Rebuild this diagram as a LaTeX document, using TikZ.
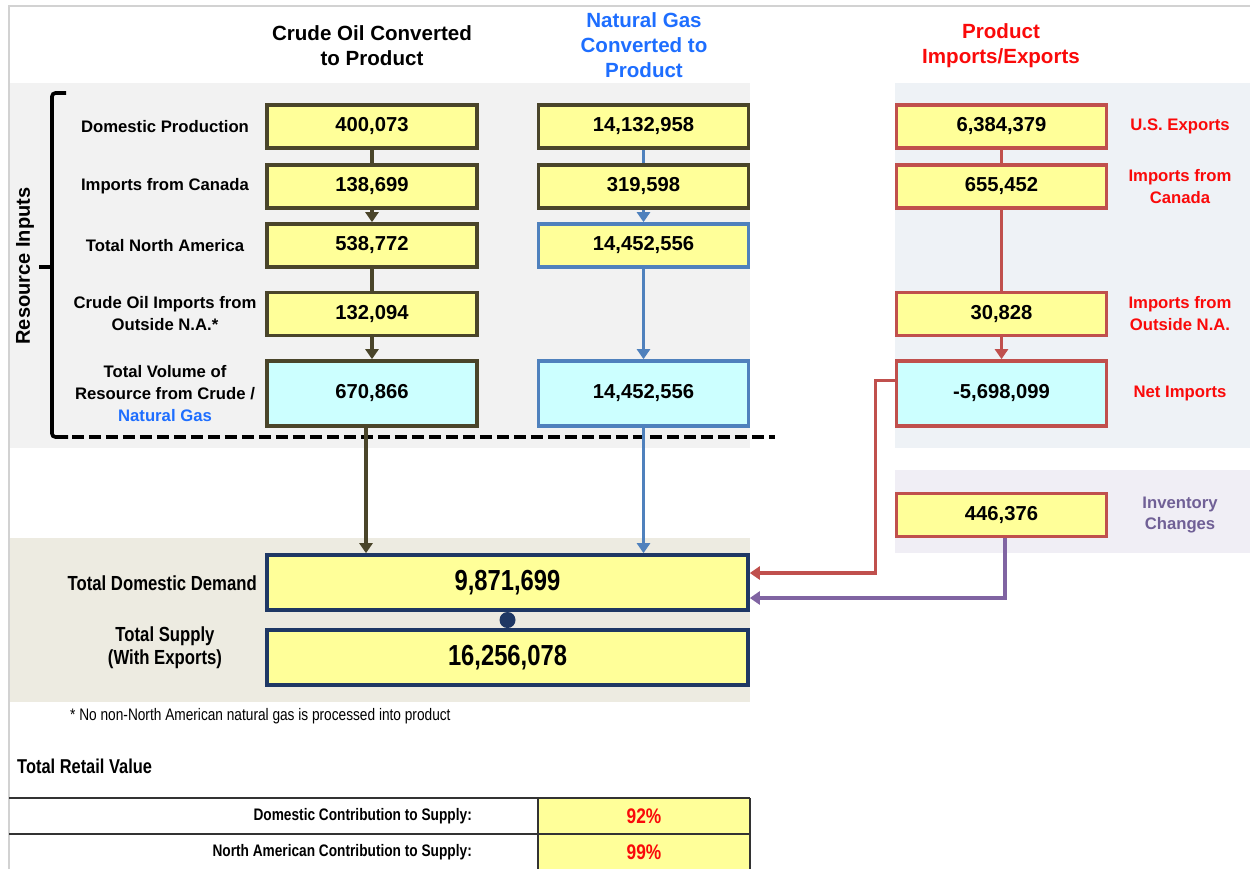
\documentclass[tikz,border=0pt]{standalone}
\usepackage{fontspec}
\setmainfont{Liberation Sans}
\newfontfamily\narrowfont[FakeStretch=0.82]{Liberation Sans}
\usepackage{tikz}
\usetikzlibrary{arrows.meta}
\definecolor{crude}{RGB}{74,69,42}
\definecolor{gas}{RGB}{79,129,189}
\definecolor{prod}{RGB}{192,80,77}
\definecolor{invpurple}{RGB}{128,100,162}
\definecolor{navy}{RGB}{31,56,100}
\definecolor{boxyellow}{RGB}{255,255,153}
\definecolor{boxcyan}{RGB}{204,255,255}
\definecolor{headblue}{RGB}{30,110,255}
\definecolor{headred}{RGB}{250,10,10}
\definecolor{invtext}{RGB}{112,96,150}
\definecolor{panelgray}{RGB}{242,242,242}
\definecolor{panelblue}{RGB}{238,242,246}
\definecolor{panellilac}{RGB}{240,238,245}
\definecolor{panelbeige}{RGB}{237,235,225}
\definecolor{framegray}{RGB}{210,210,210}
\tikzset{
  % node options
  numbox/.style={rectangle,draw,line width=2.1pt,fill=boxyellow,inner sep=0pt,
    minimum width=4.2cm,minimum height=0.86cm,font=\bfseries\fontsize{11.5}{13}\selectfont},
  crudebox/.style={numbox,draw=crude},
  gasbox/.style={numbox,draw=gas},
  prodbox/.style={numbox,draw=prod},
  totfill/.style={fill=boxcyan,minimum height=1.3cm},
  bigbox/.style={numbox,draw=navy,minimum width=9.62cm,minimum height=1.1cm,
    font=\narrowfont\bfseries\fontsize{16.5}{18}\selectfont},
  header/.style={align=center,font=\bfseries\fontsize{11.7}{14.2}\selectfont},
  rowlabel/.style={align=center,font=\bfseries\fontsize{9.5}{12.5}\selectfont},
  sidelabel/.style={rowlabel,text=headred},
  narrowlabel/.style={align=center,font=\narrowfont\bfseries\fontsize{11.6}{13}\selectfont},
  dotmark/.style={circle,fill=navy,inner sep=0pt,minimum size=0.32cm},
  % path options
  link/.style={line width=1.9pt},
  flow/.style={link,-{Triangle[length=0.2cm,width=0.26cm]}},
}

\begin{document}
\begin{tikzpicture}[x=0.02cm,y=-0.02cm]
  \useasboundingbox (0,0) rectangle (1250,869);
  % panels
  \fill[panelgray] (9,83) rectangle (750,448);
  \fill[panelblue] (895,83) rectangle (1250,448);
  \fill[panellilac] (895,470) rectangle (1250,553);
  \fill[panelbeige] (9,538) rectangle (750,702);
  \fill[boxyellow] (538,798) rectangle (750,869);
  \draw[framegray,line width=0.8pt] (9,869) -- (9,6) -- (1250,6);

  % headers
  \node[header] (crudehead) at (372,45.5) {Crude Oil Converted\\to Product};
  \node[header,text=headblue] (gashead) at (644,45) {Natural Gas\\Converted to\\Product};
  \node[header,text=headred] (prodhead) at (1001,45.5) {Product\\Imports/Exports};

  % crude oil column
  \node[crudebox] (dom) at (372,126.5) {400,073};
  \node[crudebox] (can) at (372,186.5) {138,699};
  \node[crudebox] (na) at (372,245.5) {538,772};
  \node[crudebox] (outside) at (372,314) {132,094};
  \node[crudebox,totfill] (crudetot) at (372,393.5) {670,866};

  % natural gas column
  \node[crudebox] (gdom) at (643.5,126.5) {14,132,958};
  \node[crudebox] (gcan) at (643.5,186.5) {319,598};
  \node[gasbox] (gna) at (643.5,245.5) {14,452,556};
  \node[gasbox,totfill] (gtot) at (643.5,393.5) {14,452,556};

  % product column
  \node[prodbox] (exports) at (1001.5,126.5) {6,384,379};
  \node[prodbox] (pcan) at (1001.5,186.5) {655,452};
  \node[prodbox] (poutside) at (1001.5,314) {30,828};
  \node[prodbox,totfill] (netimp) at (1001.5,393.5) {-5,698,099};
  \node[prodbox] (invchg) at (1001.5,515) {446,376};

  % row labels
  \node[rowlabel] (domlbl) at (165,126.5) {Domestic Production};
  \node[rowlabel] (canlbl) at (165,186.5) {Imports from Canada};
  \node[rowlabel] (nalbl) at (165,245.5) {Total North America};
  \node[rowlabel] (outlbl) at (165,314) {Crude Oil Imports from\\Outside N.A.*};
  \node[rowlabel] (totlbl) at (165,393.5) {Total Volume of\\Resource from Crude /\\\textcolor{headblue}{Natural Gas}};
  \node[sidelabel] (explbl) at (1180,126.5) {U.S. Exports};
  \node[sidelabel] (pcanlbl) at (1180,186.5) {Imports from\\Canada};
  \node[sidelabel] (poutlbl) at (1180,314) {Imports from\\Outside N.A.};
  \node[sidelabel] (netlbl) at (1180,393.5) {Net Imports};
  \node[rowlabel,text=invtext] (invlbl) at (1180,515) {Inventory\\Changes};
  \node[rotate=90,font=\bfseries\fontsize{11.4}{13}\selectfont] (reslbl) at (25,266) {Resource Inputs};

  % brace and divider
  \draw[link,line width=2.1pt,rounded corners=2pt] (66,93) -- (52,93) -- (52,437) -- (68,437);
  \draw[link,line width=2.1pt] (52,267) -- (39,267);
  \draw[link,line width=2.4pt,dash pattern=on 0.24cm off 0.1cm] (72,437) -- (775,437);

  % totals
  \node[bigbox] (demand) at (507.5,582.5) {9,871,699};
  \node[bigbox] (supply) at (507.5,657.5) {16,256,078};
  \node[dotmark] (joint) at (507.5,620) {};
  \node[narrowlabel,anchor=east] (demlbl) at (263,583) {Total Domestic Demand};
  \node[narrowlabel] (suplbl) at (165,648) {Total Supply\\(With Exports)};

  % connectors
  \draw[link,crude] (dom) -- (can);
  \draw[flow,crude] (can) -- (na);
  \draw[link,crude] (na) -- (outside);
  \draw[flow,crude] (outside) -- (crudetot);
  \draw[flow,crude] ([xshift=-0.12cm]crudetot.south) -- ([xshift=-0.12cm]crudetot.south |- demand.north);
  \draw[link,gas] (gdom) -- (gcan);
  \draw[flow,gas] (gcan) -- (gna);
  \draw[flow,gas] (gna) -- (gtot);
  \draw[flow,gas] (gtot.south) -- (gtot.south |- demand.north);
  \draw[link,prod] (exports) -- (pcan);
  \draw[link,prod] (pcan) -- (poutside);
  \draw[flow,prod] (poutside) -- (netimp);
  \draw[flow,prod] ([yshift=0.26cm]netimp.west) -- ++(-19,0) |- ([yshift=0.19cm]demand.east);
  \draw[flow,invpurple] ([xshift=0.07cm]invchg.south) |- ([yshift=-0.31cm]demand.east);

  % footnote and table
  \node[anchor=west,font=\narrowfont\fontsize{9.5}{11}\selectfont] (note) at (64,716)
    {* No non-North American natural gas is processed into product};
  \node[anchor=west,font=\narrowfont\bfseries\fontsize{11.4}{13}\selectfont] (retail) at (11,766) {Total Retail Value};
  \draw[line width=0.9pt,black!80] (9,798) -- (750,798) (9,834) -- (750,834)
    (538,798) -- (538,869) (750,798) -- (750,869);
  \node[anchor=east,font=\narrowfont\bfseries\fontsize{9.5}{11}\selectfont] (domshare) at (478,816) {Domestic Contribution to Supply:};
  \node[anchor=east,font=\narrowfont\bfseries\fontsize{9.5}{11}\selectfont] (nashare) at (478,852) {North American Contribution to Supply:};
  \node[text=headred,font=\narrowfont\bfseries\fontsize{12}{13}\selectfont] (dompct) at (644,816) {92\%};
  \node[text=headred,font=\narrowfont\bfseries\fontsize{12}{13}\selectfont] (napct) at (644,852) {99\%};
\end{tikzpicture}
\end{document}
